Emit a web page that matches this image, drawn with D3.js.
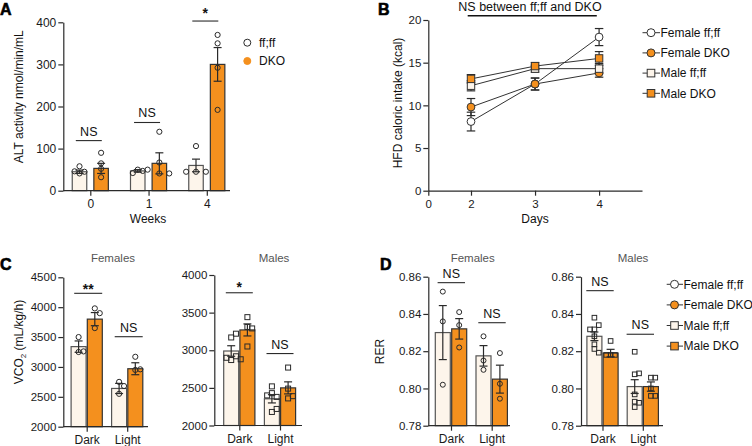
<!DOCTYPE html>
<html><head><meta charset="utf-8">
<script src="https://cdn.jsdelivr.net/npm/d3@7"></script>
<style>body{margin:0;background:#fff} svg text{font-family:"Liberation Sans",Arial,Helvetica,sans-serif}</style>
</head><body><svg id="c" width="752" height="446"></svg>
<script>
// ---------------- DATA ----------------
// Panel A: ALT activity
const weeks = ["0", "1", "4"];
const altTicks = [0, 100, 200, 300, 400];
const altFfMean = [45, 47, 60];
const altFfSem = [4, 3, 15];
const altDkoMean = [53, 65, 300];
const altDkoSem = [12, 25, 40];
const altFfPoints = [[41, 45, 46, 58], [50, 47, 42, 50], [45, 45, 45, 106]];
const altDkoPoints = [[90, 65, 52, 32], [41, 67, 41, 140], [370, 350, 292, 192]];
const altSig = ["NS", "NS", "*"];
const altSigLevel = [119, 162, 403];

// Panel B: HFD caloric intake
const days = [2, 3, 4];
const dayTicks = [0, 2, 3, 4];
const kcalTicks = [0, 5, 10, 15, 20];
const seriesNames = ["Female ff;ff", "Female DKO", "Male ff;ff", "Male DKO"];
const femFfKcal = [8.1, 12.5, 18.0], femFfKcalSem = [1.1, 0.7, 1.0];
const femDkoKcal = [9.8, 12.5, 13.8], femDkoKcalSem = [1.0, 0.7, 0.5];
const maleFfKcal = [12.3, 14.3, 14.3], maleFfKcalSem = [0.6, 0.4, 0.6];
const maleDkoKcal = [13.1, 14.6, 15.5], maleDkoKcalSem = [0.5, 0.4, 0.8];
const kcalNote = "NS between ff;ff and DKO";

// Panels C/D shared
const phases = ["Dark", "Light"];

// Panel C: VCO2
const vco2FemTicks = [2000, 2500, 3000, 3500, 4000, 4500];
const vco2FemFfMean = [3340, 2640], vco2FemFfSem = [95, 85];
const vco2FemDkoMean = [3800, 2970], vco2FemDkoSem = [110, 100];
const vco2FemFfPoints = [[3500, 3250, 3260], [2750, 2680, 2550]];
const vco2FemDkoPoints = [[3980, 3900, 3650], [3170, 2950, 2960]];
const vco2FemSig = ["**", "NS"], vco2FemSigLevel = [4232, 3506];

const vco2MaleTicks = [2000, 2500, 3000, 3500, 4000];
const vco2MaleFfMean = [2990, 2355], vco2MaleFfSem = [70, 55];
const vco2MaleDkoMean = [3270, 2500], vco2MaleDkoSem = [80, 80];
const vco2MaleFfPoints = [[2870, 2920, 3170, 3220, 2900, 2880], [2520, 2430, 2380, 2400, 2180, 2220]];
const vco2MaleDkoPoints = [[3440, 3310, 3290, 3050], [2770, 2490, 2360, 2390]];
const vco2MaleSig = ["*", "NS"], vco2MaleSigLevel = [3764, 2956];

// Panel D: RER
const rerTicks = [0.78, 0.80, 0.82, 0.84, 0.86];
const rerFemFfMean = [0.830, 0.8175], rerFemFfSem = [0.0145, 0.0055];
const rerFemDkoMean = [0.832, 0.805], rerFemDkoSem = [0.0055, 0.0075];
const rerFemFfPoints = [[0.852, 0.836, 0.802], [0.828, 0.815, 0.810]];
const rerFemDkoPoints = [[0.841, 0.834, 0.822], [0.819, 0.8025, 0.7945]];
const rerFemSig = ["NS", "NS"], rerFemSigLevel = [0.8568, 0.8353];

const rerMaleFfMean = [0.828, 0.801], rerMaleFfSem = [0.0023, 0.0037];
const rerMaleDkoMean = [0.819, 0.801], rerMaleDkoSem = [0.002, 0.0025];
const rerMaleFfPoints = [[0.838, 0.8317, 0.834, 0.8317, 0.828, 0.8237, 0.8212, 0.8192], [0.8197, 0.8076, 0.8081, 0.7968, 0.7929, 0.7923, 0.790]];
const rerMaleDkoPoints = [[0.8255, 0.818, 0.818, 0.818], [0.8058, 0.8058, 0.800, 0.796, 0.796]];
const rerMaleSig = ["NS", "NS"], rerMaleSigLevel = [0.8525, 0.8291];

const groupLabels = ["ff;ff", "DKO"];

// ---------------- DRAWING ----------------
const ORANGE = "#F4901E", CREAM = "#FDF5EB", INK = "#2a2a2a";
const svg = d3.select("#c");

function styleAxis(g, fs) {
  g.selectAll("path.domain").attr("stroke", INK).attr("stroke-width", 1.2);
  g.selectAll(".tick line").attr("stroke", INK).attr("stroke-width", 1.2);
  g.selectAll(".tick text").attr("fill", "#1a1a1a").style("font-size", (fs || 11.5) + "px");
}

function beeswarm(vals, cx, yScale, r) {
  const placed = [];
  const dx = 1.9 * r, minD = 1.9 * r;
  vals.forEach(v => {
    const y = yScale(v);
    for (let k = 0; k < 20; k++) {
      const step = k === 0 ? 0 : (k % 2 ? Math.ceil(k / 2) : -Math.ceil(k / 2));
      const x = cx + step * dx;
      if (placed.every(p => Math.hypot(p.x - x, p.y - y) >= minD)) { placed.push({ x, y }); break; }
    }
  });
  return placed;
}

function marker(g, shape, x, y, size, fill, stroke, sw) {
  if (shape === "circle") {
    g.append("circle").attr("cx", x).attr("cy", y).attr("r", size).attr("fill", fill).attr("stroke", stroke).attr("stroke-width", sw);
  } else {
    g.append("rect").attr("x", x - size).attr("y", y - size).attr("width", size * 2).attr("height", size * 2)
      .attr("fill", fill).attr("stroke", stroke).attr("stroke-width", sw);
  }
}

function errBar(g, x, y1, y2, cap) {
  g.append("line").attr("x1", x).attr("x2", x).attr("y1", y1).attr("y2", y2).attr("stroke", INK).attr("stroke-width", 1.2);
  [y1, y2].forEach(yy => g.append("line").attr("x1", x - cap / 2).attr("x2", x + cap / 2).attr("y1", yy).attr("y2", yy)
    .attr("stroke", INK).attr("stroke-width", 1.2));
}

function barPanel(c) {
  const g = svg.append("g");
  const x = d3.scalePoint().domain(c.cats).range([c.c0, c.c1]);
  const y = d3.scaleLinear().domain(c.domain).range([c.yBot, c.yTop]);
  const groups = [
    { mean: c.ffMean, sem: c.ffSem, pts: c.ffPts, fill: CREAM, stroke: "#555", off: -c.off },
    { mean: c.dkoMean, sem: c.dkoSem, pts: c.dkoPts, fill: ORANGE, stroke: "#333", off: c.off }
  ];
  groups.forEach(gr => {
    c.cats.forEach((cat, i) => {
      const cx = x(cat) + gr.off;
      g.append("rect").attr("x", cx - c.bw / 2).attr("y", y(gr.mean[i])).attr("width", c.bw)
        .attr("height", y(c.domain[0]) - y(gr.mean[i])).attr("fill", gr.fill).attr("stroke", gr.stroke).attr("stroke-width", 1.2);
    });
  });
  groups.forEach(gr => {
    c.cats.forEach((cat, i) => {
      const cx = x(cat) + gr.off;
      beeswarm(gr.pts[i], cx, y, c.r).forEach(p => marker(g, c.shape, p.x, p.y, c.r, "none", INK, 1));
      errBar(g, cx, y(gr.mean[i] - gr.sem[i]), y(gr.mean[i] + gr.sem[i]), 8);
    });
  });
  const ya = g.append("g").attr("transform", `translate(${c.x0},0)`)
    .call(d3.axisLeft(y).tickValues(c.ticks).tickFormat(c.fmt).tickSize(5).tickSizeOuter(0).tickPadding(2));
  styleAxis(ya, c.fs);
  const xa = g.append("g").attr("transform", `translate(0,${c.yBot})`)
    .call(d3.axisBottom(x).tickSize(5).tickPadding(4));
  xa.select("path.domain").remove();
  styleAxis(xa, c.xfs || 12);
  g.append("line").attr("x1", c.x0).attr("x2", c.x1).attr("y1", c.yBot).attr("y2", c.yBot).attr("stroke", INK).attr("stroke-width", 1.2);
  c.cats.forEach((cat, i) => {
    const ly = y(c.sigLevel[i]);
    const cx = x(cat) + (c.sigShift || 0);
    g.append("line").attr("x1", cx - c.sigHalf).attr("x2", cx + c.sigHalf).attr("y1", ly).attr("y2", ly)
      .attr("stroke", INK).attr("stroke-width", 1.1);
    const lab = c.sig[i];
    if (lab === "NS") {
      g.append("text").attr("x", cx).attr("y", ly - 5).attr("text-anchor", "middle").style("font-size", "12.5px").attr("fill", "#111").text(lab);
    } else {
      g.append("text").attr("x", cx).attr("y", ly - (c.starGap || 8)).attr("dy", "0.55em").attr("text-anchor", "middle")
        .style("font-size", "14px").style("font-weight", "bold").attr("fill", "#111").text(lab);
    }
  });
  if (c.title) {
    g.append("text").attr("x", c.titleX).attr("y", 261.5).attr("text-anchor", "middle").style("font-size", "11.5px")
      .attr("fill", "#555").text(c.title);
  }
  return { x, y };
}

// ---- Panel A ----
barPanel({
  cats: weeks, c0: 90.3, c1: 206.8, x0: 63.3, x1: 230, yTop: 22.3, yBot: 190.7, domain: [0, 400], ticks: altTicks,
  fmt: d3.format("d"), ffMean: altFfMean, ffSem: altFfSem, ffPts: altFfPoints, dkoMean: altDkoMean, dkoSem: altDkoSem,
  dkoPts: altDkoPoints, off: 10.8, bw: 14.5, r: 2.6, shape: "circle", sig: altSig, sigLevel: altSigLevel, sigHalf: 13,
  sigShift: -1.5, starGap: 11, fs: 12
});
svg.append("text").attr("transform", "translate(22.5,96.7) rotate(-90)").attr("text-anchor", "middle").style("font-size", "12px")
  .attr("fill", "#111").text("ALT activity nmol/min/mL");
svg.append("text").attr("x", 148).attr("y", 222.5).attr("text-anchor", "middle").style("font-size", "12px").attr("fill", "#111").text("Weeks");
[{ f: "#fff" }, { f: ORANGE }].forEach((d, i) => {
  const ly = 42.7 + i * 18.3;
  svg.append("circle").attr("cx", 247.3).attr("cy", ly).attr("r", 3.5).attr("fill", d.f).attr("stroke", i ? ORANGE : INK).attr("stroke-width", 1);
  svg.append("text").attr("x", 259).attr("y", ly + 4.2).style("font-size", "12px").attr("fill", "#111").text(groupLabels[i]);
});

// ---- Panel B ----
(function () {
  const g = svg.append("g");
  const x = d3.scaleLinear().domain([0, 2, 4.67]).range([428.3, 471, 642]);
  const y = d3.scaleLinear().domain([0, 20]).range([190.7, 20]);
  const series = [
    { vals: femFfKcal, sem: femFfKcalSem, shape: "circle", fill: "#fff" },
    { vals: femDkoKcal, sem: femDkoKcalSem, shape: "circle", fill: ORANGE },
    { vals: maleFfKcal, sem: maleFfKcalSem, shape: "square", fill: CREAM },
    { vals: maleDkoKcal, sem: maleDkoKcalSem, shape: "square", fill: ORANGE }
  ];
  const line = d3.line().x((d, i) => x(days[i])).y(d => y(d));
  series.forEach(s => {
    s.vals.forEach((v, i) => errBar(g, x(days[i]), y(v - s.sem[i]), y(v + s.sem[i]), 8.5));
  });
  series.forEach(s => g.append("path").attr("d", line(s.vals)).attr("fill", "none").attr("stroke", "#333").attr("stroke-width", 1));
  series.forEach(s => s.vals.forEach((v, i) => marker(g, s.shape, x(days[i]), y(v), s.shape === "circle" ? 3.9 : 3.7, s.fill, "#333", 1)));
  const ya = g.append("g").attr("transform", `translate(428.3,0)`)
    .call(d3.axisLeft(y).tickValues(kcalTicks).tickSize(5).tickSizeOuter(0).tickPadding(2));
  styleAxis(ya, 11.5);
  const xa = g.append("g").attr("transform", `translate(0,190.7)`)
    .call(d3.axisBottom(x).tickValues(dayTicks).tickFormat(d3.format("d")).tickSize(5).tickSizeOuter(0).tickPadding(4));
  styleAxis(xa, 11.5);
  g.append("line").attr("x1", x(2) - 3.3).attr("x2", x(4) - 2.3).attr("y1", 15.7).attr("y2", 15.7).attr("stroke", "#111").attr("stroke-width", 1.4);
  g.append("text").attr("x", 530).attr("y", 10.5).attr("text-anchor", "middle").style("font-size", "12.5px").attr("fill", "#111").text(kcalNote);
  svg.append("text").attr("transform", "translate(401.5,103) rotate(-90)").attr("text-anchor", "middle").style("font-size", "12px")
    .attr("fill", "#111").text("HFD caloric intake (kcal)");
  svg.append("text").attr("x", 535).attr("y", 222.5).attr("text-anchor", "middle").style("font-size", "12px").attr("fill", "#111").text("Days");
  series.forEach((s, i) => {
    const ly = 32.7 + i * 20.2;
    svg.append("line").attr("x1", 642.5).attr("x2", 660).attr("y1", ly).attr("y2", ly).attr("stroke", "#333").attr("stroke-width", 1);
    marker(svg, s.shape, 651, ly, s.shape === "circle" ? 4 : 3.8, s.fill, "#333", 1);
    svg.append("text").attr("x", 660.5).attr("y", ly + 4.3).style("font-size", "12px").attr("fill", "#111").text(seriesNames[i]);
  });
})();

// ---- Panel C ----
barPanel({
  cats: phases, c0: 86.7, c1: 127.2, x0: 63.3, x1: 148, yTop: 277.3, yBot: 426.7, domain: [2000, 4500], ticks: vco2FemTicks,
  fmt: d3.format("d"), ffMean: vco2FemFfMean, ffSem: vco2FemFfSem, ffPts: vco2FemFfPoints, dkoMean: vco2FemDkoMean,
  dkoSem: vco2FemDkoSem, dkoPts: vco2FemDkoPoints, off: 8.1, bw: 15, r: 2.6, shape: "circle", sig: vco2FemSig,
  sigLevel: vco2FemSigLevel, sigHalf: 14, sigShift: 1.5, starGap: 7, title: "Females", titleX: 113
});
barPanel({
  cats: phases, c0: 239.3, c1: 280, x0: 214.3, x1: 302, yTop: 275, yBot: 425.5, domain: [2000, 4000], ticks: vco2MaleTicks,
  fmt: d3.format("d"), ffMean: vco2MaleFfMean, ffSem: vco2MaleFfSem, ffPts: vco2MaleFfPoints, dkoMean: vco2MaleDkoMean,
  dkoSem: vco2MaleDkoSem, dkoPts: vco2MaleDkoPoints, off: 8.1, bw: 15, r: 2.5, shape: "square", sig: vco2MaleSig,
  sigLevel: vco2MaleSigLevel, sigHalf: 13.5, sigShift: 0, starGap: 8.5, title: "Males", titleX: 274
});
(function () {
  const t = svg.append("text").attr("transform", "translate(23,342) rotate(-90)").attr("text-anchor", "middle")
    .style("font-size", "12px").attr("fill", "#111");
  t.append("tspan").text("VCO");
  t.append("tspan").attr("dy", 3).style("font-size", "8px").text("2");
  t.append("tspan").attr("dy", -3).text(" (mL/kg/h)");
})();

// ---- Panel D ----
barPanel({
  cats: phases, c0: 451, c1: 491.7, x0: 428.3, x1: 510, yTop: 276.7, yBot: 425.7, domain: [0.78, 0.86], ticks: rerTicks,
  fmt: d3.format(".2f"), ffMean: rerFemFfMean, ffSem: rerFemFfSem, ffPts: rerFemFfPoints, dkoMean: rerFemDkoMean,
  dkoSem: rerFemDkoSem, dkoPts: rerFemDkoPoints, off: 8.2, bw: 15, r: 2.5, shape: "circle", sig: rerFemSig,
  sigLevel: rerFemSigLevel, sigHalf: 13.7, sigShift: 0.3, title: "Females", titleX: 472.7
});
barPanel({
  cats: phases, c0: 602.5, c1: 642.8, x0: 581, x1: 663, yTop: 276.7, yBot: 425.7, domain: [0.78, 0.86], ticks: rerTicks,
  fmt: d3.format(".2f"), ffMean: rerMaleFfMean, ffSem: rerMaleFfSem, ffPts: rerMaleFfPoints, dkoMean: rerMaleDkoMean,
  dkoSem: rerMaleDkoSem, dkoPts: rerMaleDkoPoints, off: 8.1, bw: 15, r: 2.3, shape: "square", sig: rerMaleSig,
  sigLevel: rerMaleSigLevel, sigHalf: 13.7, sigShift: -2.5, title: "Males", titleX: 633
});
svg.append("text").attr("transform", "translate(384.3,351.5) rotate(-90)").attr("text-anchor", "middle").style("font-size", "12px")
  .attr("fill", "#111").text("RER");
(function () {
  const items = [
    { shape: "circle", fill: "#fff" }, { shape: "circle", fill: ORANGE },
    { shape: "square", fill: CREAM }, { shape: "square", fill: ORANGE }
  ];
  items.forEach((s, i) => {
    const ly = 284.3 + i * 20.6;
    svg.append("line").attr("x1", 666.7).attr("x2", 683).attr("y1", ly).attr("y2", ly).attr("stroke", "#333").attr("stroke-width", 1);
    marker(svg, s.shape, 674.5, ly, s.shape === "circle" ? 4 : 3.8, s.fill, "#333", 1);
    svg.append("text").attr("x", 683.5).attr("y", ly + 4.3).style("font-size", "12px").attr("fill", "#111").text(seriesNames[i]);
  });
})();

// ---- Panel letters ----
[["A", 0, 14.5], ["B", 378, 15], ["C", 0, 270], ["D", 380, 270]].forEach(d => {
  svg.append("text").attr("x", d[1]).attr("y", d[2]).style("font-size", "16px").style("font-weight", "bold")
    .attr("fill", "#000").attr("stroke", "#000").attr("stroke-width", 0.6).text(d[0]);
});
</script></body></html>
